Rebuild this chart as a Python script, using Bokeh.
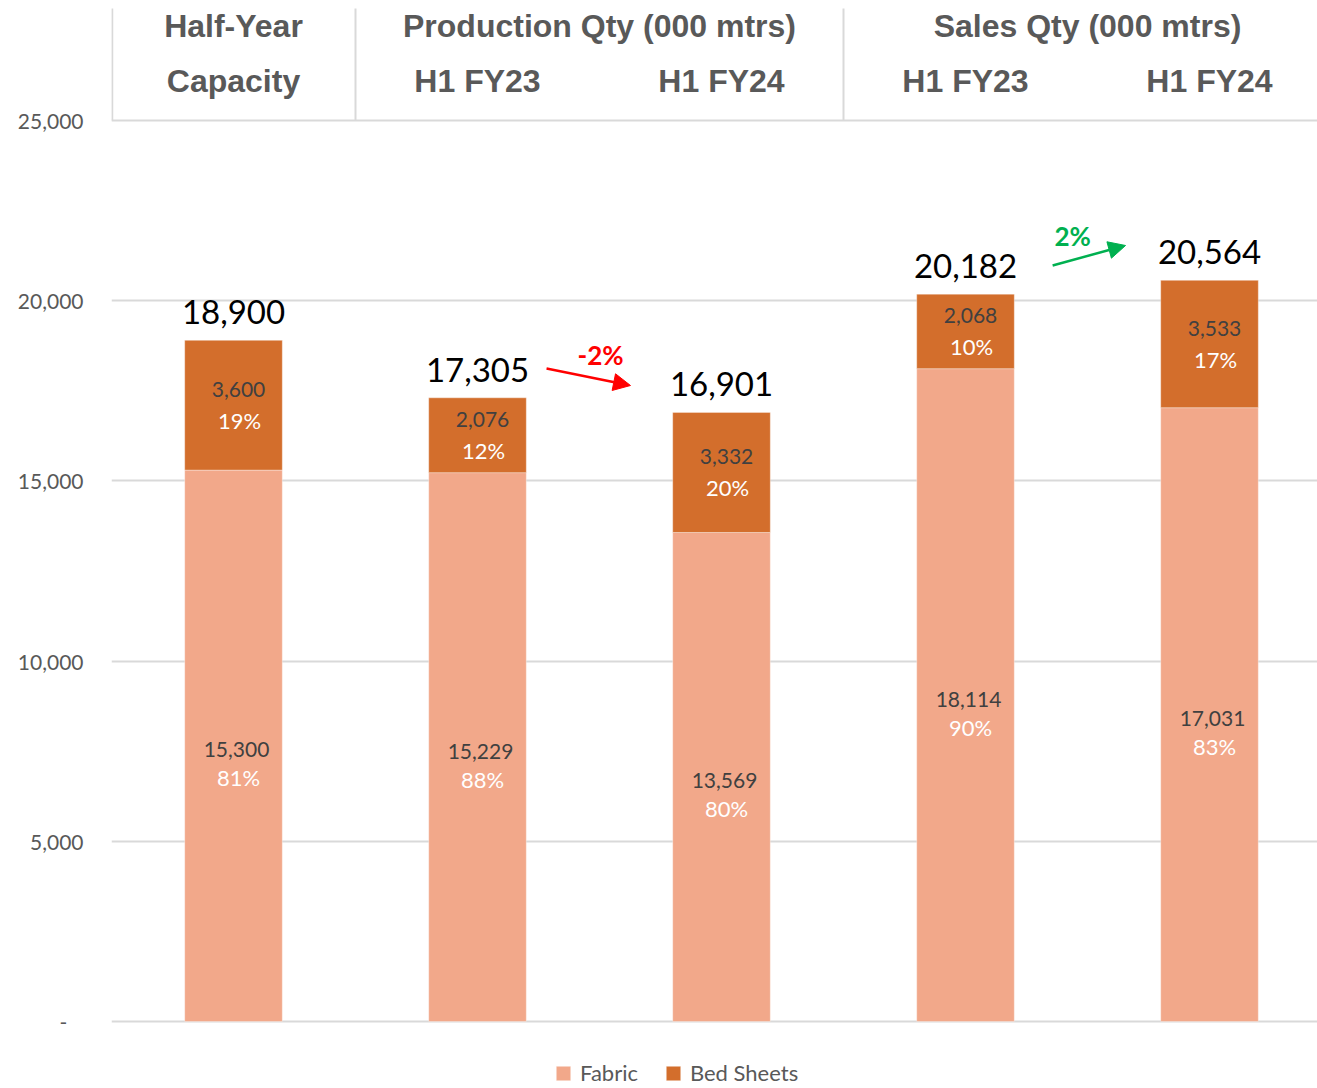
from bokeh.plotting import figure
from bokeh.models import (ColumnDataSource, Range1d, FixedTicker, Legend, LegendItem,
                          Arrow, NormalHead)
from bokeh.core.properties import value
from bokeh.embed import file_html
from bokeh.resources import INLINE

# ---------------- data ----------------
categories = ["Half-Year Capacity", "Production H1 FY23", "Production H1 FY24",
              "Sales H1 FY23", "Sales H1 FY24"]
fabric = [15300, 15229, 13569, 18114, 17031]
bed_sheets = [3600, 2076, 3332, 2068, 3533]

group_labels = ["Half-Year", "Production Qty (000 mtrs)", "Sales Qty (000 mtrs)"]
group_centers = [0, 1.5, 3.5]
sub_labels = ["Capacity", "H1 FY23", "H1 FY24", "H1 FY23", "H1 FY24"]
separators = [-0.497, 0.5, 2.5]

y_ticks = [0, 5000, 10000, 15000, 20000, 25000]

# growth annotations: (from bar, to bar)
growth_pairs = [(1, 2), (3, 4)]
growth_colors = ["#FF0000", "#00B050"]
# hand-placed annotation positions (index units, value units)
arrow_start = [(1.283, 18119), (3.357, 20977)]
arrow_end = [(1.627, 17647), (3.656, 21532)]
growth_label_pos = [(1.504, 18480), (3.439, 21809)]

# ---------------- derived ----------------
x = list(range(len(categories)))
totals = [f + b for f, b in zip(fabric, bed_sheets)]
fabric_pct = [f"{round(f / t * 100)}%" for f, t in zip(fabric, totals)]
bed_pct = [f"{round(b / t * 100)}%" for b, t in zip(bed_sheets, totals)]

src = ColumnDataSource(dict(
    x=x, fabric=fabric, bed=bed_sheets, total=totals,
    fabric_mid=[f / 2 for f in fabric],
    bed_mid=[f + b / 2 for f, b in zip(fabric, bed_sheets)],
    fabric_txt=[f"{v:,}" for v in fabric],
    bed_txt=[f"{v:,}" for v in bed_sheets],
    total_txt=[f"{v:,}" for v in totals],
    fabric_pct=fabric_pct, bed_pct=bed_pct,
))

C_FABRIC = "#F2A88A"
C_BED = "#D36E2C"
GRID = "#D9D9D9"
GREY = "#595959"
FONT = "Lato"

PX = 25000 / 901.0  # value units per pixel
ZERO_PX = 1021      # page row of the zero line
p = figure(width=1317, height=1088, output_backend="svg", toolbar_location=None,
           x_range=Range1d(-0.5, 4.4426),
           y_range=Range1d(-(1088 - ZERO_PX) * PX, ZERO_PX * PX),
           min_border_left=111, min_border_right=0, min_border_top=0, min_border_bottom=0)
p.outline_line_color = None
p.background_fill_color = "white"
p.xaxis.visible = False
p.xgrid.visible = False

p.yaxis.ticker = FixedTicker(ticks=y_ticks)
p.yaxis.formatter.use_scientific = False
p.yaxis.major_label_overrides = {t: (f"{t:,}" if t else "-\u00a0\u00a0\u00a0") for t in y_ticks}
p.yaxis.axis_line_color = None
p.yaxis.major_tick_line_color = None
p.yaxis.minor_tick_line_color = None
p.yaxis.major_label_standoff = 22
p.yaxis.major_label_text_font = FONT
p.yaxis.major_label_text_font_size = "21px"
p.yaxis.major_label_text_color = GREY

p.ygrid.ticker = FixedTicker(ticks=y_ticks)
p.ygrid.grid_line_color = GRID
p.ygrid.grid_line_width = 2

# header separators
p.segment(x0=separators, x1=separators, y0=[25000] * 3, y1=[(ZERO_PX - 8) * PX] * 3,
          line_color=GRID, line_width=2)

# header texts
HEADER_ROW1 = (ZERO_PX - 25.5) * PX
HEADER_ROW2 = (ZERO_PX - 80) * PX
p.text(x=group_centers, y=[HEADER_ROW1] * 3, text=group_labels,
       text_font=value("Liberation Sans"), text_font_style="bold", text_font_size="32px",
       text_color=GREY, text_align="center", text_baseline="middle")
p.text(x=x, y=[HEADER_ROW2] * 5, text=sub_labels,
       text_font=value("Liberation Sans"), text_font_style="bold", text_font_size="32px",
       text_color=GREY, text_align="center", text_baseline="middle")

# bars
rs = p.vbar_stack(["fabric", "bed"], x="x", width=0.4, color=[C_FABRIC, C_BED],
                  line_color="white", line_alpha=0.35, line_width=1, source=src)

# segment labels
p.text(x="x", y="bed_mid", text="bed_txt", source=src, x_offset=5, y_offset=-16,
       text_font=value(FONT), text_font_size="21px", text_color="#404040",
       text_align="center", text_baseline="middle")
p.text(x="x", y="bed_mid", text="bed_pct", source=src, x_offset=6, y_offset=15,
       text_font=value(FONT), text_font_size="22px", text_color="white",
       text_align="center", text_baseline="middle")
p.text(x="x", y="fabric_mid", text="fabric_txt", source=src, x_offset=3, y_offset=4,
       text_font=value(FONT), text_font_size="21px", text_color="#404040",
       text_align="center", text_baseline="middle")
p.text(x="x", y="fabric_mid", text="fabric_pct", source=src, x_offset=5, y_offset=32,
       text_font=value(FONT), text_font_size="22px", text_color="white",
       text_align="center", text_baseline="middle")

# totals
p.text(x="x", y="total", text="total_txt", source=src, y_offset=-28,
       text_font=value(FONT), text_font_size="33px", text_color="black",
       text_align="center", text_baseline="middle")

# growth arrows
for (a, b), col, s, e, lp in zip(growth_pairs, growth_colors, arrow_start, arrow_end, growth_label_pos):
    g = (totals[b] - totals[a]) / totals[a] * 100
    p.add_layout(Arrow(x_start=s[0], y_start=s[1], x_end=e[0], y_end=e[1],
                       line_color=col, line_width=2.5,
                       end=NormalHead(size=17, fill_color=col, line_color=col)))
    p.text(x=[lp[0]], y=[lp[1]], text=[f"{round(g)}%"],
           text_font=value(FONT), text_font_style="bold", text_font_size="26px",
           text_color=col, text_align="center", text_baseline="middle")

legend = Legend(items=[LegendItem(label="Fabric", renderers=[rs[0]]),
                       LegendItem(label="Bed Sheets", renderers=[rs[1]])],
                orientation="horizontal", location=(443, 2),
                glyph_width=18, glyph_height=18, label_standoff=8, spacing=26,
                padding=0, margin=0, border_line_color=None, background_fill_alpha=0,
                label_text_font=FONT, label_text_font_size="22px", label_text_color=GREY)
p.add_layout(legend)

open("out.html", "w").write(file_html(p, INLINE))
